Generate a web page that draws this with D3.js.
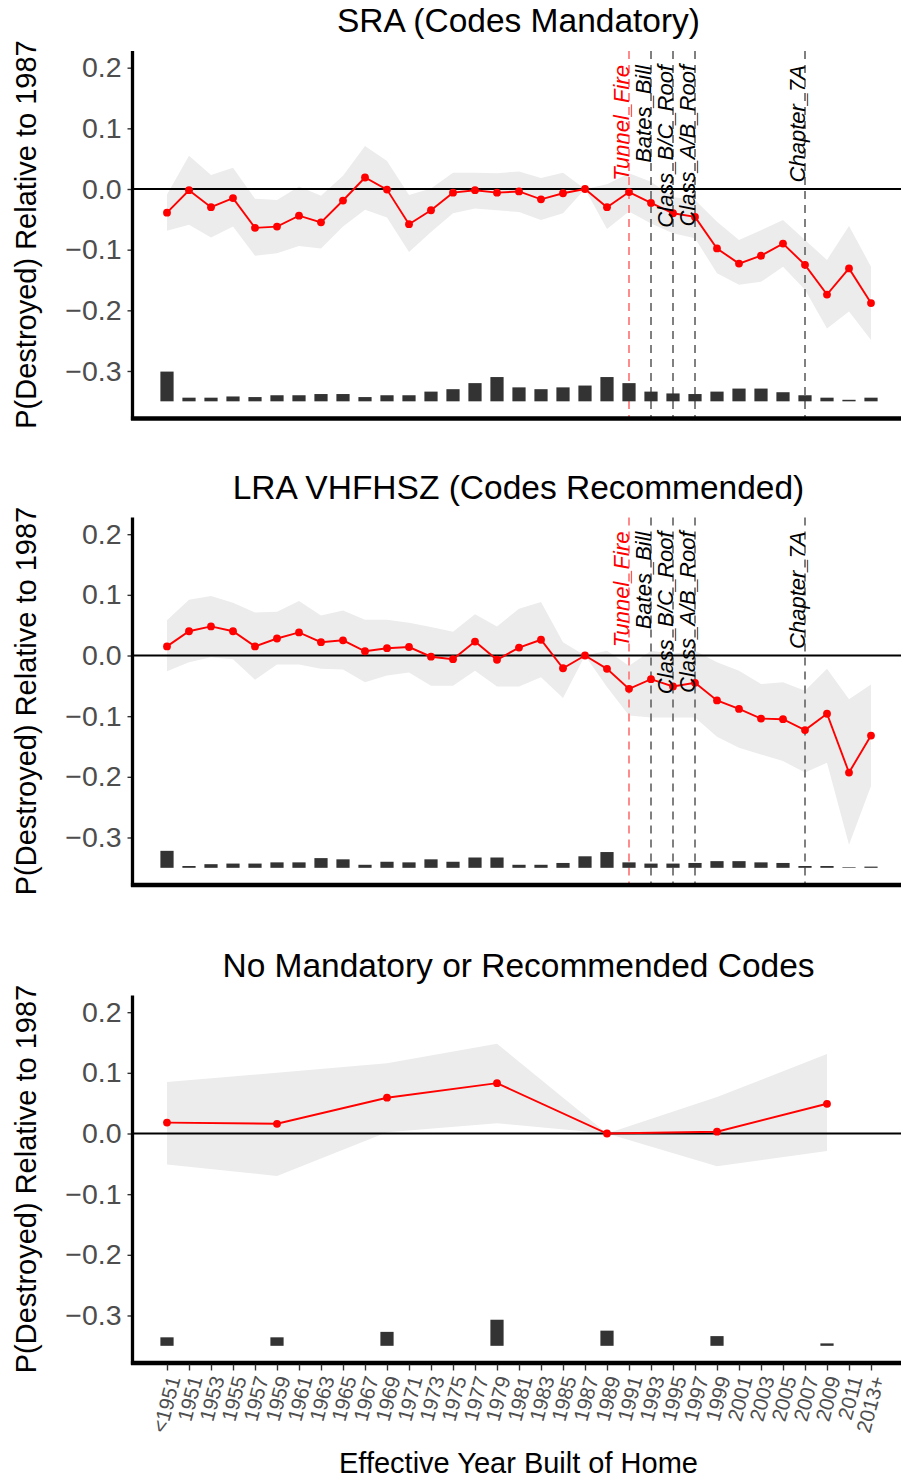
<!DOCTYPE html>
<html>
<head>
<meta charset="utf-8">
<script src="https://cdn.jsdelivr.net/npm/d3@7"></script>
<style>
	body { margin: 0; background: #fff; }
	svg text { font-family: "Liberation Sans", Arial, sans-serif; }
</style>
</head>
<body>
<svg id="mysvg" width="901" height="1481"></svg>
<script>
// categories on the x axis
var years = ["<1951", "1951", "1953", "1955", "1957", "1959", "1961", "1963", "1965", "1967",
	"1969", "1971", "1973", "1975", "1977", "1979", "1981", "1983", "1985", "1987",
	"1989", "1991", "1993", "1995", "1997", "1999", "2001", "2003", "2005", "2007",
	"2009", "2011", "2013+"];
var yTicks = [-0.3, -0.2, -0.1, 0, 0.1, 0.2];

// SRA (Codes Mandatory)
var sraEst = [-0.039, -0.002, -0.030, -0.015, -0.064, -0.062, -0.044, -0.055, -0.019, 0.019,
	-0.001, -0.058, -0.035, -0.006, -0.002, -0.006, -0.004, -0.017, -0.007, 0.000,
	-0.030, -0.005, -0.023, -0.040, -0.046, -0.098, -0.123, -0.110, -0.090, -0.125,
	-0.174, -0.131, -0.188];
var sraHi = [-0.009, 0.055, 0.023, 0.035, -0.016, -0.018, 0.004, -0.011, 0.022, 0.071,
	0.046, -0.010, 0.001, 0.027, 0.027, 0.026, 0.029, 0.018, 0.027, 0.000,
	0.008, 0.026, 0.012, -0.013, -0.018, -0.054, -0.084, -0.068, -0.051, -0.084,
	-0.117, -0.061, -0.128];
var sraLo = [-0.069, -0.059, -0.080, -0.062, -0.110, -0.106, -0.094, -0.098, -0.062, -0.034,
	-0.047, -0.104, -0.071, -0.040, -0.032, -0.035, -0.038, -0.051, -0.040, 0.000,
	-0.066, -0.037, -0.057, -0.073, -0.081, -0.139, -0.158, -0.153, -0.128, -0.166,
	-0.230, -0.202, -0.249];
var sraShare = [0.049, 0.006, 0.006, 0.008, 0.007, 0.010, 0.010, 0.012, 0.012, 0.007,
	0.010, 0.010, 0.016, 0.020, 0.030, 0.040, 0.023, 0.020, 0.023, 0.026,
	0.040, 0.030, 0.016, 0.013, 0.012, 0.016, 0.021, 0.021, 0.015, 0.010,
	0.006, 0.0025, 0.006];

// LRA VHFHSZ (Codes Recommended)
var lraEst = [0.015, 0.040, 0.048, 0.040, 0.015, 0.028, 0.038, 0.022, 0.025, 0.007,
	0.012, 0.014, -0.002, -0.006, 0.023, -0.007, 0.013, 0.026, -0.021, 0.000,
	-0.022, -0.055, -0.039, -0.051, -0.045, -0.074, -0.088, -0.104, -0.105, -0.123,
	-0.096, -0.193, -0.132];
var lraHi = [0.058, 0.092, 0.098, 0.087, 0.071, 0.072, 0.090, 0.066, 0.074, 0.059,
	0.059, 0.054, 0.047, 0.039, 0.068, 0.048, 0.077, 0.088, 0.022, 0.000,
	0.008, -0.017, 0.008, 0.003, 0.008, -0.011, -0.025, -0.047, -0.044, -0.058,
	-0.022, -0.072, -0.048];
var lraLo = [-0.026, -0.011, -0.003, -0.006, -0.040, -0.015, -0.015, -0.022, -0.023, -0.044,
	-0.033, -0.028, -0.050, -0.050, -0.025, -0.051, -0.051, -0.036, -0.070, 0.000,
	-0.052, -0.099, -0.102, -0.102, -0.102, -0.134, -0.152, -0.163, -0.174, -0.193,
	-0.177, -0.312, -0.215];
var lraShare = [0.028, 0.003, 0.006, 0.007, 0.007, 0.009, 0.009, 0.016, 0.014, 0.005,
	0.010, 0.009, 0.014, 0.010, 0.017, 0.017, 0.005, 0.005, 0.008, 0.019,
	0.026, 0.009, 0.007, 0.007, 0.008, 0.011, 0.011, 0.009, 0.008, 0.003,
	0.003, 0.001, 0.002];

// No Mandatory or Recommended Codes
var noneYears = ["<1951", "1959", "1969", "1979", "1989", "1999", "2009"];
var noneEst = [0.018, 0.016, 0.059, 0.083, 0.000, 0.003, 0.049];
var noneHi = [0.085, 0.100, 0.116, 0.148, 0.000, 0.060, 0.131];
var noneLo = [-0.051, -0.070, 0.002, 0.017, 0.000, -0.054, -0.029];
var noneShare = [0.014, 0.014, 0.023, 0.043, 0.025, 0.016, 0.004];

// policy events
var lawYears = ["1991", "1993", "1995", "1997", "2007"];
var lawLabels = ["Tunnel_Fire", "Bates_Bill", "Class_B/C_Roof", "Class_A/B_Roof", "Chapter_7A"];

var svg = d3.select("#mysvg");
var left = 132.5 , right = 901;
var x = d3.scalePoint().domain(years).range([167, 871]);
var barBase = -0.35;
var barW = 13.2;

function zip (cats, est, lo, hi, share) {
	var out = [];
	for (var i = 0 ; i < cats.length ; ++i) {
		out.push({year: cats[i], est: est[i], lo: lo[i], hi: hi[i], share: share[i]});
	}
	return out;
}

var panels = [
	{title: "SRA (Codes Mandatory)", top: 51, rows: zip(years, sraEst, sraLo, sraHi, sraShare), laws: true, xlab: false},
	{title: "LRA VHFHSZ (Codes Recommended)", top: 517.5, rows: zip(years, lraEst, lraLo, lraHi, lraShare), laws: true, xlab: false},
	{title: "No Mandatory or Recommended Codes", top: 995.5, rows: zip(noneYears, noneEst, noneLo, noneHi, noneShare), laws: false, xlab: true}
];

function drawPanel (p) {
	var h = 367;
	var y = d3.scaleLinear().domain([-0.3775, 0.2275]).range([p.top + h, p.top]);
	var g = svg.append("g");

	// title
	g.append("text")
		.attr("x" , 518.5)
		.attr("y" , p.top - 19)
		.attr("text-anchor" , "middle")
		.attr("font-size" , "33.5px")
		.attr("fill" , "#000")
		.text(p.title);

	// confidence ribbon
	var area = d3.area()
		.x(function(d){ return x(d.year); })
		.y0(function(d){ return y(d.lo); })
		.y1(function(d){ return y(d.hi); });
	g.append("path")
		.datum(p.rows)
		.attr("d" , area)
		.attr("fill" , "#ececec");

	// zero reference
	g.append("line")
		.attr("x1" , left).attr("x2" , right)
		.attr("y1" , y(0)).attr("y2" , y(0))
		.attr("stroke" , "#000")
		.attr("stroke-width" , 1.8);

	// law lines
	if (p.laws) {
		g.selectAll(".law").data(lawYears).enter().append("line")
			.attr("x1" , function(d){ return x(d); })
			.attr("x2" , function(d){ return x(d); })
			.attr("y1" , p.top)
			.attr("y2" , p.top + h)
			.attr("stroke" , function(d , i){ return i === 0 ? "#ff8080" : "#737373"; })
			.attr("stroke-width" , 1.8)
			.attr("stroke-dasharray" , "8,6");
	}

	// share bars
	g.selectAll(".bar").data(p.rows).enter().append("rect")
		.attr("x" , function(d){ return x(d.year) - barW / 2; })
		.attr("y" , function(d){ return y(barBase + d.share); })
		.attr("width" , barW)
		.attr("height" , function(d){ return y(barBase) - y(barBase + d.share); })
		.attr("fill" , "#333333");

	// estimate line and points
	var line = d3.line()
		.x(function(d){ return x(d.year); })
		.y(function(d){ return y(d.est); });
	g.append("path")
		.datum(p.rows)
		.attr("d" , line)
		.attr("fill" , "none")
		.attr("stroke" , "#ff0000")
		.attr("stroke-width" , 1.9);
	g.selectAll(".pt").data(p.rows).enter().append("circle")
		.attr("cx" , function(d){ return x(d.year); })
		.attr("cy" , function(d){ return y(d.est); })
		.attr("r" , 3.9)
		.attr("fill" , "#ff0000");

	if (p.laws) {
		g.selectAll(".lawtext").data(lawYears).enter().append("text")
			.attr("transform" , function(d){ return "translate(" + (x(d) - 0.5) + "," + (p.top + 14) + ") rotate(-90)"; })
			.attr("text-anchor" , "end")
			.attr("font-size" , "22px")
			.attr("font-style" , "italic")
			.attr("fill" , function(d , i){ return i === 0 ? "#ff0000" : "#000"; })
			.text(function(d , i){ return lawLabels[i]; });
	}

	// y axis
	var yAxis = d3.axisLeft(y).tickValues(yTicks).tickSize(5).tickPadding(6)
		.tickFormat(function(d){ return d3.format(".1f")(d).replace("-", "\u2212"); });
	var ya = g.append("g").attr("transform" , "translate(" + left + ",0)").call(yAxis);
	ya.select(".domain").remove();
	ya.selectAll(".tick line").attr("stroke" , "#333").attr("stroke-width" , 1.4);
	ya.selectAll(".tick text")
		.attr("font-size" , "28.5px")
		.attr("fill" , "#4d4d4d")
		.attr("font-family" , "Liberation Sans, Arial, sans-serif");

	g.append("line")
		.attr("x1" , left).attr("x2" , left)
		.attr("y1" , p.top).attr("y2" , p.top + h + 2)
		.attr("stroke" , "#000").attr("stroke-width" , 3.3);
	g.append("line")
		.attr("x1" , left - 1.6).attr("x2" , right)
		.attr("y1" , p.top + h + 0.5).attr("y2" , p.top + h + 0.5)
		.attr("stroke" , "#000").attr("stroke-width" , 4.5);

	g.append("text")
		.attr("transform" , "translate(36," + (p.top + h / 2) + ") rotate(-90)")
		.attr("text-anchor" , "middle")
		.attr("font-size" , "29px")
		.attr("fill" , "#000")
		.text("P(Destroyed) Relative to 1987");

	if (p.xlab) {
		var xAxis = d3.axisBottom(x).tickSize(6).tickPadding(0);
		var xa = g.append("g").attr("transform" , "translate(0," + (p.top + h + 2) + ")").call(xAxis);
		xa.select(".domain").remove();
		xa.selectAll(".tick line").attr("stroke" , "#333").attr("stroke-width" , 1.4);
		xa.selectAll(".tick text")
			.attr("font-size" , "20.5px")
			.attr("fill" , "#4d4d4d")
			.attr("font-family" , "Liberation Sans, Arial, sans-serif")
			.attr("text-anchor" , "end")
			.attr("dy" , null)
			.attr("y" , 0)
			.attr("dominant-baseline" , "central")
			.attr("transform" , "translate(6,12) rotate(-75)");

		g.append("text")
			.attr("x" , 518.5)
			.attr("y" , 1473)
			.attr("text-anchor" , "middle")
			.attr("font-size" , "29px")
			.attr("fill" , "#000")
			.text("Effective Year Built of Home");
	}
}

for (var i = 0 ; i < panels.length ; ++i) {
	drawPanel(panels[i]);
}
</script>
</body>
</html>
